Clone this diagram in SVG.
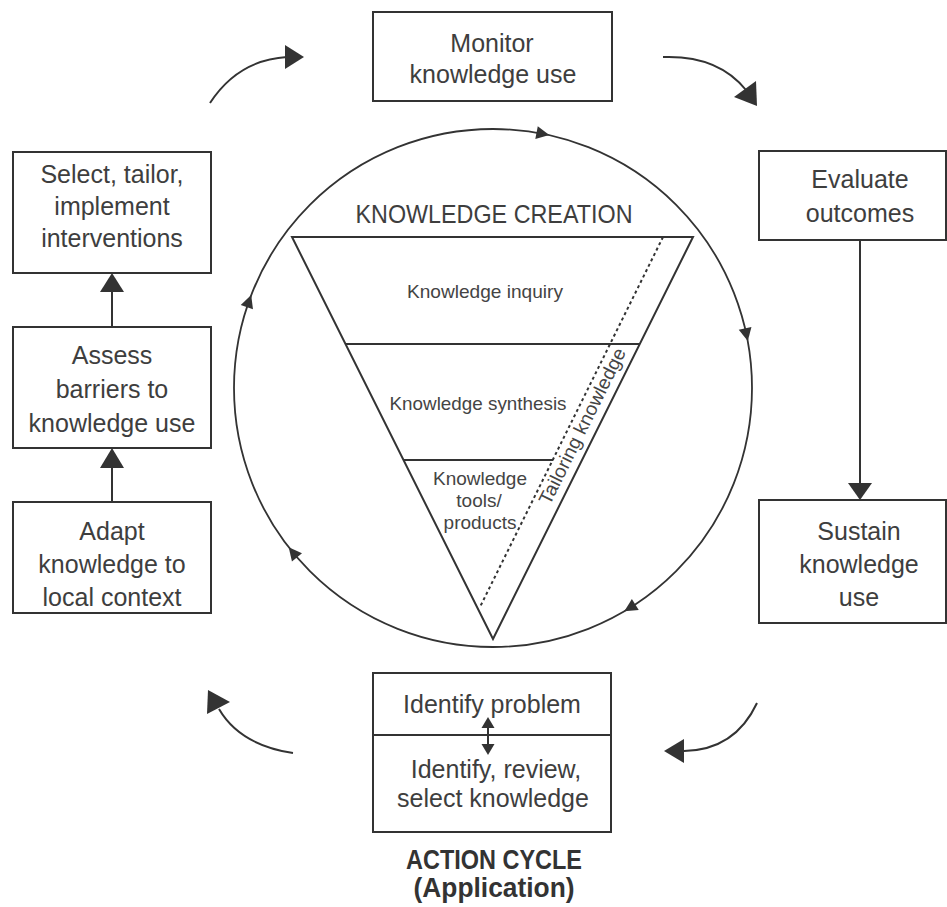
<svg xmlns="http://www.w3.org/2000/svg" width="947" height="907" viewBox="0 0 947 907">
  <style>
    .box { fill: #fff; stroke: #333; stroke-width: 2; }
    .ln { fill: none; stroke: #333; stroke-width: 2; }
    .thin { fill: none; stroke: #333; stroke-width: 1.8; }
    .head { fill: #333; stroke: none; }
    .t { font-family: "Liberation Sans", Arial, sans-serif; font-size: 25px; fill: #3e3e3e; text-anchor: middle; }
    .s { font-family: "Liberation Sans", Arial, sans-serif; font-size: 19px; fill: #444; text-anchor: middle; }
    .b { font-family: "Liberation Sans", Arial, sans-serif; font-size: 27px; font-weight: bold; fill: #333; text-anchor: middle; }
  </style>

  <!-- knowledge creation funnel inside the cycle -->
  <g id="knowledge-creation">
    <circle class="thin" cx="493" cy="388" r="259"/>
    <polygon class="ln" points="292,237 693,237 493,639" stroke-linejoin="miter"/>
    <line class="ln" x1="346" y1="344" x2="640" y2="344"/>
    <line class="ln" x1="404" y1="460" x2="553" y2="460"/>
    <line class="ln" x1="663" y1="237" x2="480" y2="607" stroke-dasharray="3,3"/>
    <text class="t" x="494" y="223" font-size="28" textLength="277" lengthAdjust="spacingAndGlyphs">KNOWLEDGE CREATION</text>
    <text class="s" x="485" y="298" textLength="156" lengthAdjust="spacingAndGlyphs">Knowledge inquiry</text>
    <text class="s" x="478" y="410" textLength="177" lengthAdjust="spacingAndGlyphs">Knowledge synthesis</text>
    <text class="s" x="480" y="485">Knowledge</text>
    <text class="s" x="479" y="507">tools/</text>
    <text class="s" x="480" y="529">products</text>
    <text class="s" transform="translate(588,429) rotate(-63.6)" x="0" y="0" textLength="172" lengthAdjust="spacingAndGlyphs">Tailoring knowledge</text>
  </g>

  <!-- clockwise direction marks on the circle -->
  <g id="circle-arrows">
    <polygon class="head" points="752,395 745.5,382 758.5,382" transform="rotate(-79 493 388)"/>
    <polygon class="head" points="752,395 745.5,382 758.5,382" transform="rotate(-12 493 388)"/>
    <polygon class="head" points="752,395 745.5,382 758.5,382" transform="rotate(58 493 388)"/>
    <polygon class="head" points="752,395 745.5,382 758.5,382" transform="rotate(140.5 493 388)"/>
    <polygon class="head" points="752,395 745.5,382 758.5,382" transform="rotate(199.5 493 388)"/>
  </g>

  <!-- action cycle steps -->
  <g id="monitor">
    <rect class="box" x="373" y="12" width="239" height="89"/>
    <text class="t" x="492" y="52">Monitor</text>
    <text class="t" x="493" y="83">knowledge use</text>
  </g>
  <g id="evaluate">
    <rect class="box" x="759" y="151" width="187" height="89"/>
    <text class="t" x="860" y="188">Evaluate</text>
    <text class="t" x="860" y="222">outcomes</text>
  </g>
  <g id="sustain">
    <rect class="box" x="759" y="500" width="187" height="123"/>
    <text class="t" x="859" y="540">Sustain</text>
    <text class="t" x="859" y="573">knowledge</text>
    <text class="t" x="859" y="606">use</text>
  </g>
  <g id="identify">
    <rect class="box" x="373" y="673" width="238" height="159"/>
    <line class="ln" x1="373" y1="735" x2="611" y2="735"/>
    <text class="t" x="492" y="713">Identify problem</text>
    <text class="t" x="496" y="778">Identify, review,</text>
    <text class="t" x="493" y="807">select knowledge</text>
  </g>
  <g id="adapt">
    <rect class="box" x="13" y="502" width="198" height="111"/>
    <text class="t" x="112" y="540">Adapt</text>
    <text class="t" x="112" y="573">knowledge to</text>
    <text class="t" x="112" y="606">local context</text>
  </g>
  <g id="assess">
    <rect class="box" x="13" y="327" width="198" height="121"/>
    <text class="t" x="112" y="364">Assess</text>
    <text class="t" x="112" y="398">barriers to</text>
    <text class="t" x="112" y="432">knowledge use</text>
  </g>
  <g id="select">
    <rect class="box" x="13" y="152" width="198" height="121"/>
    <text class="t" x="112" y="183">Select, tailor,</text>
    <text class="t" x="112" y="215">implement</text>
    <text class="t" x="112" y="247">interventions</text>
  </g>
  <g id="cycle-label">
    <text class="b" x="494" y="869" textLength="176" lengthAdjust="spacingAndGlyphs">ACTION CYCLE</text>
    <text class="b" x="494" y="897" textLength="161" lengthAdjust="spacingAndGlyphs">(Application)</text>
  </g>

  <!-- connectors -->
  <g id="connectors">
    <line class="ln" x1="860" y1="240" x2="860" y2="484"/>
    <polygon class="head" points="860,500 848,483 872,483"/>
    <line class="ln" x1="112" y1="502" x2="112" y2="467"/>
    <polygon class="head" points="112,448 100,468 124,468"/>
    <line class="ln" x1="112" y1="327" x2="112" y2="291"/>
    <polygon class="head" points="112,273 100,292 124,292"/>

    <line class="ln" x1="488" y1="726" x2="488" y2="746"/>
    <polygon class="head" points="488,717 481.5,728 494.5,728"/>
    <polygon class="head" points="488,755 481.5,744 494.5,744"/>

    <path class="ln" d="M210,103 Q238,60 287,57"/>
    <polygon class="head" points="304,57 285,45 285,69"/>
    <path class="ln" d="M663,57 Q718,55 746,90"/>
    <polygon class="head" points="757,106 734,97 756,81"/>
    <path class="ln" d="M757,703 Q735,750 684,751"/>
    <polygon class="head" points="664,751 684,739 684,763"/>
    <path class="ln" d="M293,753 Q240,745 219,709"/>
    <polygon class="head" points="208,690 230,702 207,714"/>
  </g>
</svg>
